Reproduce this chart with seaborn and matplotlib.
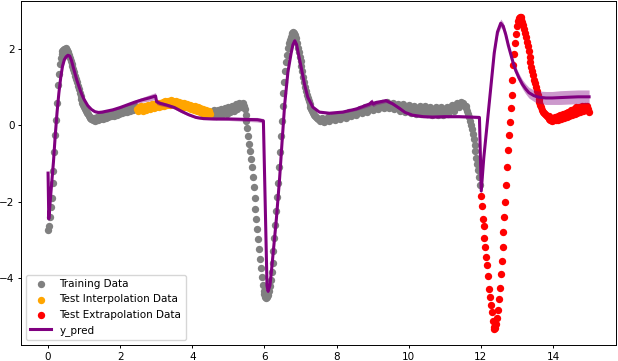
import numpy as np
import matplotlib
matplotlib.use('Agg')
import matplotlib.pyplot as plt
import seaborn as sns

DT = 0.025

# Training data segments: (start time, values)
train_a_t0 = 0.0
train_a = [-2.75, -2.65, -2.40, -2.15, -1.90, -1.50, -1.20, -0.70, -0.25, 0.15,
           0.60, 1.05, 1.35, 1.60, 1.78, 1.88, 1.95, 1.98, 2.01, 2.00,
           2.02, 1.98, 1.92, 1.85, 1.76, 1.68, 1.62, 1.55, 1.48, 1.40,
           1.30, 1.22, 1.13, 1.04, 0.95, 0.86, 0.77, 0.68, 0.60, 0.53,
           0.47, 0.42, 0.37, 0.33, 0.30, 0.26, 0.22, 0.20, 0.17, 0.19,
           0.14, 0.20, 0.12, 0.18, 0.22, 0.13, 0.19, 0.24, 0.16, 0.21,
           0.26, 0.18, 0.23, 0.28, 0.20, 0.25, 0.30, 0.22, 0.27, 0.32,
           0.24, 0.29, 0.34, 0.26, 0.31, 0.36, 0.28, 0.33, 0.38, 0.30,
           0.35, 0.40, 0.32, 0.37, 0.42, 0.34, 0.39, 0.44, 0.36, 0.41,
           0.46, 0.38, 0.43, 0.48, 0.40, 0.45, 0.50, 0.42, 0.47]

train_b_t0 = 4.525
train_b = [0.36, 0.28, 0.33, 0.40, 0.30, 0.26, 0.35, 0.41, 0.31, 0.27,
           0.36, 0.43, 0.33, 0.29, 0.38, 0.45, 0.35, 0.31, 0.40, 0.47,
           0.37, 0.34, 0.44, 0.50, 0.41, 0.38, 0.49, 0.55, 0.46, 0.44,
           0.54, 0.58, 0.50, 0.47, 0.56, 0.60, 0.52, 0.42, 0.28]

train_c_t0 = 5.5
train_c = [0.12, -0.08, -0.28, -0.48, -0.68, -0.88, -1.08, -1.35, -1.62, -1.90,
           -2.18, -2.45, -2.72, -2.98, -3.25, -3.50, -3.75, -3.97, -4.18, -4.33,
           -4.43, -4.50, -4.52, -4.50, -4.45, -4.35, -4.22, -4.05, -3.85, -3.60,
           -3.30, -2.95, -2.60, -2.25, -1.88, -1.50, -1.10, -0.70, -0.28, 0.12,
           0.50]

train_d_t0 = 6.525
train_d = [0.85, 1.15, 1.42, 1.65, 1.85, 2.02, 2.15, 2.25, 2.33, 2.39,
           2.43, 2.44, 2.42, 2.37, 2.28, 2.17, 2.04, 1.92, 1.80, 1.68,
           1.55, 1.42, 1.28, 1.14, 1.01, 0.90, 0.80, 0.71, 0.63, 0.56,
           0.49, 0.43, 0.38, 0.33, 0.28, 0.25, 0.22, 0.19, 0.17, 0.16]

# this stretch was read at twice the step
train_e_t0 = 7.55
train_e = [0.12, 0.20, 0.10, 0.16, 0.22, 0.12, 0.18, 0.25, 0.14, 0.21,
           0.28, 0.17, 0.24, 0.31, 0.20, 0.27, 0.34, 0.24, 0.31, 0.38,
           0.28, 0.35, 0.42, 0.32, 0.39, 0.47, 0.36, 0.43, 0.52, 0.41,
           0.48, 0.56, 0.44, 0.52, 0.60, 0.46, 0.54, 0.61, 0.45, 0.53,
           0.59, 0.42, 0.50, 0.57, 0.38, 0.47, 0.55, 0.35, 0.45, 0.53,
           0.32, 0.43, 0.52, 0.31, 0.42, 0.51, 0.30, 0.41, 0.50, 0.29,
           0.40, 0.49, 0.28, 0.39, 0.48, 0.27, 0.38, 0.47, 0.28, 0.40,
           0.49, 0.31, 0.43, 0.53, 0.37, 0.50, 0.60, 0.48, 0.62, 0.58,
           0.50]

train_f_t0 = 11.575
train_f = [0.52, 0.45, 0.38, 0.30, 0.22, 0.12, 0.02, -0.10, -0.22, -0.36,
           -0.52, -0.68, -0.85, -1.00, -1.18, -1.35, -1.55]

# Test interpolation data
interp_t0 = 2.475
interp = [0.43, 0.38, 0.47, 0.41, 0.50, 0.44, 0.39, 0.48, 0.52, 0.45,
          0.41, 0.50, 0.54, 0.46, 0.43, 0.52, 0.57, 0.49, 0.45, 0.55,
          0.51, 0.47, 0.58, 0.53, 0.49, 0.60, 0.55, 0.50, 0.62, 0.56,
          0.52, 0.63, 0.58, 0.53, 0.65, 0.59, 0.54, 0.66, 0.60, 0.55,
          0.64, 0.58, 0.53, 0.63, 0.57, 0.52, 0.62, 0.56, 0.51, 0.60,
          0.55, 0.49, 0.58, 0.53, 0.47, 0.56, 0.50, 0.45, 0.54, 0.48,
          0.43, 0.52, 0.46, 0.41, 0.50, 0.44, 0.39, 0.47, 0.42, 0.36,
          0.45, 0.40, 0.33, 0.43, 0.37, 0.31, 0.41, 0.35, 0.30, 0.39,
          0.34, 0.29]

# Test extrapolation data
extrap_a_t0 = 12.0
extrap_a = [-1.85, -2.10, -2.45, -2.65, -2.95, -3.20, -3.45, -3.65, -3.95, -4.30,
            -4.50, -4.70, -4.90, -5.12, -5.28, -5.35, -5.32, -5.20, -5.05, -4.85,
            -4.55, -4.25, -3.90, -3.55, -3.20, -2.80, -2.40, -2.00, -1.55, -1.10,
            -0.65, -0.25, 0.10, 0.45, 0.80, 1.20, 1.58, 1.88, 2.15, 2.40,
            2.60, 2.74, 2.82, 2.85, 2.83, 2.78, 2.70, 2.62, 2.53, 2.43,
            2.32, 2.20, 2.07, 1.94, 1.80, 1.67, 1.54, 1.42, 1.31, 1.20,
            1.10, 1.00, 0.90, 0.80, 0.70, 0.62, 0.54, 0.47, 0.41, 0.36,
            0.32, 0.29, 0.27]

extrap_b_t0 = 13.825
extrap_b = [0.25, 0.22, 0.18, 0.24, 0.15, 0.20, 0.12, 0.19, 0.14, 0.22,
            0.13, 0.18, 0.24, 0.15, 0.21, 0.27, 0.17, 0.23, 0.30, 0.19,
            0.26, 0.33, 0.22, 0.29, 0.36, 0.25, 0.32, 0.40, 0.27, 0.35,
            0.44, 0.30, 0.38, 0.47, 0.32, 0.40, 0.48, 0.34, 0.43, 0.50,
            0.37, 0.46, 0.50, 0.40, 0.48, 0.50, 0.42, 0.36]

# Model prediction and its spread
pred_t = [0.00, 0.02, 0.08, 0.15, 0.20, 0.25, 0.30, 0.35, 0.40, 0.45,
          0.50, 0.55, 0.60, 0.65, 0.70, 0.75, 0.80, 0.85, 0.90, 0.95,
          1.00, 1.10, 1.20, 1.30, 1.40, 1.50, 1.60, 1.80, 2.00, 2.20,
          2.40, 2.60, 2.80, 2.98, 3.01, 3.10, 3.30, 3.50, 3.70, 3.90,
          4.10, 4.30, 4.60, 5.00, 5.40, 5.80, 5.97, 6.07, 6.10, 6.15,
          6.19, 6.26, 6.33, 6.42, 6.49, 6.56, 6.65, 6.74, 6.79, 6.84,
          6.89, 6.94, 7.02, 7.11, 7.20, 7.34, 7.52, 7.80, 8.17, 8.54,
          8.91, 8.98, 9.01, 9.10, 9.37, 9.55, 9.74, 9.90, 10.10, 10.40,
          10.66, 11.00, 11.40, 11.70, 11.96, 12.01, 12.08, 12.17, 12.27, 12.37,
          12.46, 12.55, 12.62, 12.69, 12.76, 12.83, 12.90, 12.97, 13.06, 13.15,
          13.24, 13.33, 13.47, 13.61, 13.80, 13.98, 14.20, 14.44, 14.70, 15.00]
pred_y = [-1.25, -2.45, -1.75, -0.95, -0.25, 0.35, 0.85, 1.25, 1.55, 1.72,
          1.80, 1.84, 1.82, 1.70, 1.52, 1.35, 1.18, 1.04, 0.90, 0.78,
          0.68, 0.52, 0.42, 0.36, 0.34, 0.35, 0.37, 0.41, 0.47, 0.54,
          0.61, 0.67, 0.72, 0.77, 0.62, 0.58, 0.53, 0.47, 0.37, 0.28,
          0.21, 0.18, 0.17, 0.17, 0.16, 0.15, 0.12, -4.20, -4.35, -4.20,
          -3.85, -3.15, -2.45, -1.38, -0.40, 0.55, 1.40, 1.90, 2.12, 2.22,
          2.12, 1.88, 1.51, 1.08, 0.74, 0.48, 0.35, 0.32, 0.35, 0.43,
          0.56, 0.62, 0.56, 0.60, 0.65, 0.57, 0.45, 0.34, 0.27, 0.23,
          0.22, 0.23, 0.23, 0.22, 0.21, -1.72, -0.85, 0.00, 0.95, 1.90,
          2.45, 2.68, 2.60, 2.38, 2.10, 1.86, 1.62, 1.43, 1.24, 1.08,
          0.96, 0.86, 0.78, 0.74, 0.72, 0.72, 0.73, 0.74, 0.75, 0.75]
pred_sd = [0.05, 0.08, 0.05, 0.04, 0.04, 0.04, 0.04, 0.04, 0.04, 0.04,
           0.04, 0.04, 0.04, 0.04, 0.04, 0.04, 0.04, 0.04, 0.04, 0.04,
           0.03, 0.03, 0.03, 0.03, 0.03, 0.03, 0.03, 0.03, 0.03, 0.03,
           0.05, 0.06, 0.08, 0.09, 0.07, 0.06, 0.05, 0.04, 0.04, 0.03,
           0.03, 0.03, 0.03, 0.04, 0.05, 0.06, 0.06, 0.06, 0.05, 0.05,
           0.05, 0.05, 0.05, 0.04, 0.04, 0.04, 0.04, 0.04, 0.04, 0.04,
           0.04, 0.04, 0.04, 0.04, 0.04, 0.04, 0.03, 0.03, 0.03, 0.04,
           0.06, 0.08, 0.07, 0.06, 0.05, 0.04, 0.04, 0.03, 0.03, 0.03,
           0.03, 0.03, 0.03, 0.03, 0.04, 0.05, 0.05, 0.06, 0.07, 0.08,
           0.10, 0.11, 0.10, 0.09, 0.09, 0.09, 0.10, 0.10, 0.11, 0.12,
           0.13, 0.14, 0.15, 0.16, 0.17, 0.17, 0.18, 0.18, 0.18, 0.18]


def sample_times(t0, values, step=DT):
    return t0 + step * np.arange(len(values))


# Build the three point sets
train_t = np.concatenate([
    sample_times(train_a_t0, train_a),
    sample_times(train_b_t0, train_b),
    sample_times(train_c_t0, train_c),
    sample_times(train_d_t0, train_d),
    sample_times(train_e_t0, train_e, step=2 * DT),
    sample_times(train_f_t0, train_f),
])
train_y = np.concatenate([train_a, train_b, train_c, train_d, train_e, train_f])

interp_t = sample_times(interp_t0, interp)
interp_y = np.array(interp)

extrap_t = np.concatenate([sample_times(extrap_a_t0, extrap_a),
                           sample_times(extrap_b_t0, extrap_b)])
extrap_y = np.concatenate([extrap_a, extrap_b])

pred_t = np.array(pred_t)
pred_y = np.array(pred_y)
pred_sd = np.array(pred_sd)

# Plot
plt.rcParams['font.size'] = 7.5
plt.rcParams['xtick.major.size'] = 2.5
plt.rcParams['ytick.major.size'] = 2.5
plt.rcParams['xtick.major.pad'] = 2.2
plt.rcParams['ytick.major.pad'] = 2.2
plt.rcParams['xtick.major.width'] = 0.7
plt.rcParams['ytick.major.width'] = 0.7
plt.rcParams['axes.linewidth'] = 0.7

fig, ax = plt.subplots(figsize=(6.18, 3.61), dpi=100)
fig.subplots_adjust(left=0.034, right=0.997, top=0.997, bottom=0.044)

sns.scatterplot(x=train_t, y=train_y, color='gray', s=28, linewidth=0,
                label='Training Data', ax=ax)
sns.scatterplot(x=interp_t, y=interp_y, color='orange', s=28, linewidth=0,
                label='Test Interpolation Data', ax=ax)
sns.scatterplot(x=extrap_t, y=extrap_y, color='red', s=28, linewidth=0,
                label='Test Extrapolation Data', ax=ax)
sns.lineplot(x=pred_t, y=pred_y, color='purple', linewidth=2.2,
             label='y_pred', ax=ax)
ax.fill_between(pred_t, pred_y - pred_sd, pred_y + pred_sd,
                color='purple', alpha=0.4, linewidth=0)

ax.set_xticks([0, 2, 4, 6, 8, 10, 12, 14])
ax.set_yticks([-4, -2, 0, 2])
ax.legend(loc='lower left')

fig.savefig('out.png', dpi=100)
